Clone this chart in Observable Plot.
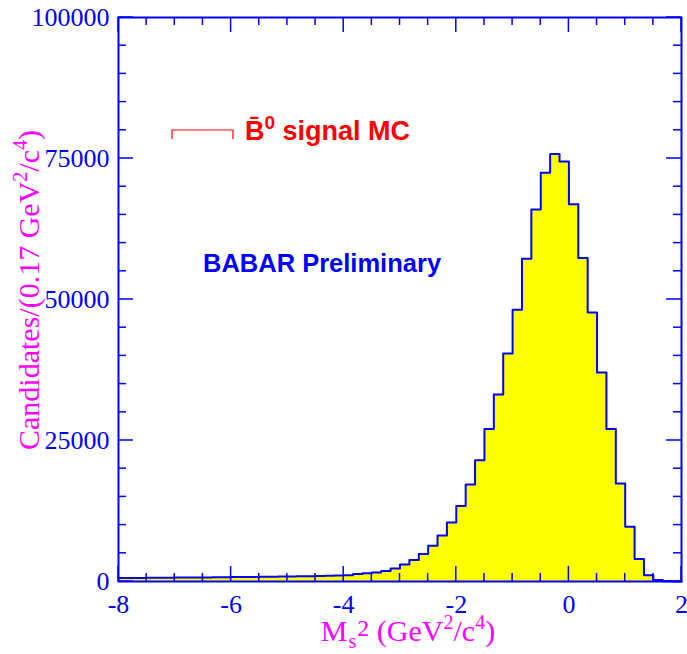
<!DOCTYPE html>
<html><head><meta charset="utf-8">
<script src="https://cdn.jsdelivr.net/npm/d3@7"></script>
<script src="https://cdn.jsdelivr.net/npm/@observablehq/plot@0.6"></script>
<style>body{margin:0;background:#fff}</style>
</head><body><div id="chart"></div>
<script>
// Histogram: 60 bins from -8 to 2 (width 1/6 ≈ 0.17 GeV^2/c^4)
const binLow = -8;
const binHigh = 2;
const counts = [
  600, 620, 630, 650, 660, 680, 690, 700, 720, 730, 750, 760,
  780, 800, 810, 830, 850, 870, 900, 920, 950, 980, 1020, 1070,
  1130, 1310, 1450, 1600, 1840, 2300, 3010, 3790, 4860, 6330, 8160, 10460,
  13370, 17200, 21520, 27020, 33160, 40430, 48170, 57220, 65960, 72460, 75780, 74470,
  66910, 57340, 47700, 37060, 27020, 17380, 9700, 3970, 1130, 250, 60, 20
];
const xMajor = [-8, -6, -4, -2, 0, 2];
const xMinor = [-7.5, -7, -6.5, -5.5, -5, -4.5, -3.5, -3, -2.5, -1.5, -1, -0.5, 0.5, 1, 1.5];
const yMajor = [0, 25000, 50000, 75000, 100000];
const yMinor = [5000, 10000, 15000, 20000, 30000, 35000, 40000, 45000, 55000, 60000, 65000, 70000, 80000, 85000, 90000, 95000];

const blue = "#0000ff", magenta = "#ff00ff", red = "#ff0000", yellow = "#ffff00";
const serif = "'Liberation Serif', 'Times New Roman', serif";
const sans = "'Liberation Sans', Arial, Helvetica, sans-serif";

const W = 687, H = 654, mL = 118, mR = 6, mT = 17, mB = 73;
const yMax = 100000;
const majorLen = 15, minorLen = 8;

const w = (binHigh - binLow) / counts.length;
const pts = counts.map((c, i) => ({x: binLow + i * w, y: c}));
pts.push({x: binHigh, y: counts[counts.length - 1]});

const chart = Plot.plot({
  width: W, height: H,
  marginLeft: mL, marginRight: mR, marginTop: mT, marginBottom: mB,
  x: {domain: [binLow, binHigh]},
  y: {domain: [0, yMax]},
  marks: [
    Plot.areaY(pts, {x: "x", y: "y", curve: "step-after", fill: yellow}),
    Plot.lineY(pts, {x: "x", y: "y", curve: "step-after", stroke: blue, strokeWidth: 2}),
    Plot.axisX({ticks: xMajor, anchor: "bottom", tickSize: 0, tickPadding: 13, tickFormat: d => String(d),
      fill: blue, fontSize: 26, fontFamily: serif, label: null}),
    Plot.axisY({ticks: yMajor, anchor: "left", tickSize: 0, tickPadding: 9, tickFormat: d => String(d),
      fill: blue, fontSize: 26, fontFamily: serif, label: null}),
    Plot.frame({stroke: blue, strokeWidth: 2})
  ]
});
document.getElementById("chart").appendChild(chart);

const svg = d3.select(chart);
const sx = chart.scale("x"), sy = chart.scale("y");
const X = v => sx.apply(v), Y = v => sy.apply(v);
const x0 = X(binLow), x1 = X(binHigh), y0 = Y(0), y1 = Y(yMax);

// Inward ticks on all four sides, positioned through Plot's scales
const tg = svg.append("g").attr("stroke", blue).attr("stroke-width", 1.5).attr("fill", "none");
const xt4 = (data, len) => {
  tg.selectAll(null).data(data).join("path").attr("d", d => `M${X(d)},${y0}V${y0 - len}`);
  tg.selectAll(null).data(data).join("path").attr("d", d => `M${X(d)},${y1}V${y1 + len}`);
};
const yt4 = (data, len) => {
  tg.selectAll(null).data(data).join("path").attr("d", d => `M${x0},${Y(d)}H${x0 + len}`);
  tg.selectAll(null).data(data).join("path").attr("d", d => `M${x1},${Y(d)}H${x1 - len}`);
};
xt4(xMajor, majorLen); xt4(xMinor, minorLen);
yt4(yMajor, majorLen); yt4(yMinor, minorLen);

// Y title
const yt = svg.append("text")
  .attr("transform", "translate(39,290) rotate(-90)")
  .attr("text-anchor", "middle").attr("fill", magenta)
  .attr("font-family", serif).attr("font-size", 30);
yt.append("tspan").text("Candidates/(0.17 GeV");
yt.append("tspan").attr("dy", -12).attr("font-size", 20).text("2");
yt.append("tspan").attr("dy", 12).text("/c");
yt.append("tspan").attr("dy", -12).attr("font-size", 20).text("4");
yt.append("tspan").attr("dy", 12).text(")");

// X title
const xt = svg.append("text")
  .attr("x", 408).attr("y", 641)
  .attr("text-anchor", "middle").attr("fill", magenta)
  .attr("font-family", serif).attr("font-size", 30);
xt.append("tspan").text("M");
xt.append("tspan").attr("dx", 1).attr("dy", 7).attr("font-size", 20).text("s");
xt.append("tspan").attr("dx", 1).attr("dy", -12).attr("font-size", 24).text("2");
xt.append("tspan").attr("dy", 5).text(" (GeV");
xt.append("tspan").attr("dy", -12).attr("font-size", 20).text("2");
xt.append("tspan").attr("dy", 12).text("/c");
xt.append("tspan").attr("dy", -12).attr("font-size", 20).text("4");
xt.append("tspan").attr("dy", 12).text(")");

// Legend
svg.append("path").attr("d", "M172,139V130H233V139").attr("fill", "none").attr("stroke", red).attr("stroke-width", 1.2);
const lg = svg.append("text").attr("x", 245).attr("y", 140).attr("text-anchor", "start")
  .attr("fill", red).attr("font-family", sans).attr("font-weight", "bold").attr("font-size", 27);
lg.append("tspan").text("B\u0304");
lg.append("tspan").attr("dy", -11).attr("font-size", 19).text("0");
lg.append("tspan").attr("dy", 11).text(" signal MC");

svg.append("text").attr("x", 203).attr("y", 272).attr("text-anchor", "start")
  .attr("fill", blue).attr("font-family", sans).attr("font-weight", "bold").attr("font-size", 25.5)
  .text("BABAR Preliminary");
</script>
</body></html>
